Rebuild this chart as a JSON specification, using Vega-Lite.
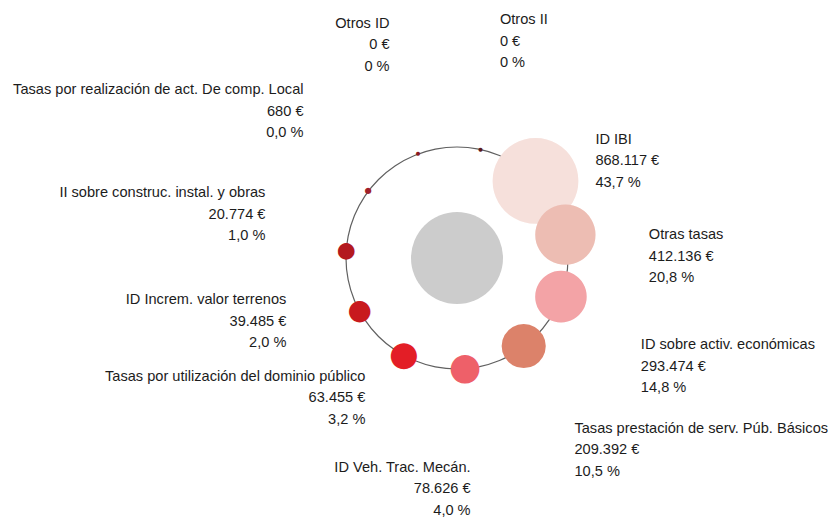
{
  "$schema": "https://vega.github.io/schema/vega-lite/v6.json",
  "width": 750,
  "height": 516,
  "autosize": {"type": "none"},
  "padding": {"left": 82, "top": 0, "right": 0, "bottom": 9},
  "background": "white",
  "config": {"view": {"stroke": null}, "text": {"font": "Liberation Sans", "fontSize": 14.6, "lineHeight": 21.5, "color": "#1c1c1c", "baseline": "middle"}},
  "data": {
    "values": [
      {"orden": 0, "nombre": "Otros II", "importe": 0, "etiqueta": ["Otros II", "0 €", "0 %"]},
      {"orden": 1, "nombre": "ID IBI", "importe": 868117, "etiqueta": ["ID IBI", "868.117 €", "43,7 %"]},
      {"orden": 2, "nombre": "Otras tasas", "importe": 412136, "etiqueta": ["Otras tasas", "412.136 €", "20,8 %"]},
      {"orden": 3, "nombre": "ID sobre activ. económicas", "importe": 293474, "etiqueta": ["ID sobre activ. económicas", "293.474 €", "14,8 %"]},
      {"orden": 4, "nombre": "Tasas prestación de serv. Púb. Básicos", "importe": 209392, "etiqueta": ["Tasas prestación de serv. Púb. Básicos", "209.392 €", "10,5 %"]},
      {"orden": 5, "nombre": "ID Veh. Trac. Mecán.", "importe": 78626, "etiqueta": ["ID Veh. Trac. Mecán.", "78.626 €", "4,0 %"]},
      {"orden": 6, "nombre": "Tasas por utilización del dominio público", "importe": 63455, "etiqueta": ["Tasas por utilización del dominio público", "63.455 €", "3,2 %"]},
      {"orden": 7, "nombre": "ID Increm. valor terrenos", "importe": 39485, "etiqueta": ["ID Increm. valor terrenos", "39.485 €", "2,0 %"]},
      {"orden": 8, "nombre": "II sobre construc. instal. y obras", "importe": 20774, "etiqueta": ["II sobre construc. instal. y obras", "20.774 €", "1,0 %"]},
      {"orden": 9, "nombre": "Tasas por realización de act. De comp. Local", "importe": 680, "etiqueta": ["Tasas por realización de act. De comp. Local", "680 €", "0,0 %"]},
      {"orden": 10, "nombre": "Otros ID", "importe": 0, "etiqueta": ["Otros ID", "0 €", "0 %"]}
    ]
  },
  "layer": [
    {
      "data": {"values": [{"anillo": 1}]},
      "mark": {"type": "arc", "theta": 0, "theta2": 6.2832, "radius": 111.6, "radius2": 110.4, "fill": "#606060"},
      "encoding": {}
    },
    {
      "data": {"values": [{"centro": 1}]},
      "mark": {"type": "arc", "theta": 0, "theta2": 6.2832, "radius": 46, "fill": "#cccccc"},
      "encoding": {}
    },
    {
      "layer": [
        {
          "transform": [{"filter": "datum.importe >= 200000"}],
          "mark": {"type": "text", "text": "●", "font": "DejaVu Sans", "radius": 111, "align": "center", "baseline": "middle", "dy": -3}
        },
        {
          "transform": [{"filter": "datum.importe < 200000"}],
          "mark": {"type": "text", "text": "●", "font": "DejaVu Sans", "radius": 111, "align": "center", "baseline": "middle", "dy": -0.7}
        }
      ],
      "encoding": {
        "theta": {"field": "orden", "type": "quantitative", "stack": false, "scale": {"type": "linear", "domain": [0, 11], "range": [0.2129, 6.4961], "zero": false}},
        "size": {"field": "importe", "type": "quantitative", "scale": {"type": "sqrt", "domain": [0, 868117], "range": [5.2, 112.3]}, "legend": null},
        "color": {"field": "nombre", "type": "nominal", "legend": null, "scale": {
          "domain": ["Otros II", "ID IBI", "Otras tasas", "ID sobre activ. económicas", "Tasas prestación de serv. Púb. Básicos", "ID Veh. Trac. Mecán.", "Tasas por utilización del dominio público", "ID Increm. valor terrenos", "II sobre construc. instal. y obras", "Tasas por realización de act. De comp. Local", "Otros ID"],
          "range": ["#5c1a1e", "#f6e0db", "#edbdb3", "#f3a3a6", "#dc826a", "#ee6069", "#e31e26", "#c8191e", "#b3191f", "#a0202a", "#8b1a22"]}}
      }
    },
    {
      "transform": [{"filter": "indexof([0, 4, 5, 10], datum.orden) >= 0"}],
      "layer": [
        {"transform": [{"filter": "datum.orden <= 4"}], "mark": {"type": "text", "radius": 228, "align": "left", "dx": -13, "dy": -16.5}},
        {"transform": [{"filter": "datum.orden >= 5"}], "mark": {"type": "text", "radius": 228, "align": "right", "dx": 5, "dy": -18}}
      ],
      "encoding": {
        "theta": {"field": "orden", "type": "quantitative", "stack": false, "scale": {"type": "linear", "domain": [0, 11], "range": [0.24784, 6.53102], "zero": false}},
        "text": {"field": "etiqueta", "type": "nominal"}
      }
    },
    {
      "transform": [{"filter": "indexof([1, 6], datum.orden) >= 0"}],
      "layer": [
        {"transform": [{"filter": "datum.orden <= 4"}], "mark": {"type": "text", "radius": 170, "align": "left", "dx": 4, "dy": -14}},
        {"transform": [{"filter": "datum.orden >= 5"}], "mark": {"type": "text", "radius": 170, "align": "right", "dx": 8, "dy": -19}}
      ],
      "encoding": {
        "theta": {"field": "orden", "type": "quantitative", "stack": false, "scale": {"type": "linear", "domain": [0, 11], "range": [0.34034, 6.62353], "zero": false}},
        "text": {"field": "etiqueta", "type": "nominal"}
      }
    },
    {
      "transform": [{"filter": "indexof([2, 7, 8], datum.orden) >= 0"}],
      "layer": [
        {"transform": [{"filter": "datum.orden <= 4"}], "mark": {"type": "text", "radius": 190, "align": "left", "dx": 2, "dy": -14}},
        {"transform": [{"filter": "datum.orden == 7"}], "mark": {"type": "text", "radius": 190, "align": "right", "dx": 9, "dy": -19.5}},
        {"transform": [{"filter": "datum.orden == 8"}], "mark": {"type": "text", "radius": 190, "align": "right", "dx": -7, "dy": -19.5}}
      ],
      "encoding": {
        "theta": {"field": "orden", "type": "quantitative", "stack": false, "scale": {"type": "linear", "domain": [0, 11], "range": [0.38223, 6.66541], "zero": false}},
        "text": {"field": "etiqueta", "type": "nominal"}
      }
    },
    {
      "transform": [{"filter": "indexof([3, 9], datum.orden) >= 0"}],
      "layer": [
        {"transform": [{"filter": "datum.orden <= 4"}], "mark": {"type": "text", "radius": 213, "align": "left", "dx": -3, "dy": -15}},
        {"transform": [{"filter": "datum.orden >= 5"}], "mark": {"type": "text", "radius": 213, "align": "right", "dx": -3, "dy": -17}}
      ],
      "encoding": {
        "theta": {"field": "orden", "type": "quantitative", "stack": false, "scale": {"type": "linear", "domain": [0, 11], "range": [0.35779, 6.64098], "zero": false}},
        "text": {"field": "etiqueta", "type": "nominal"}
      }
    }
  ],
  "resolve": {"scale": {"theta": "independent"}}
}
